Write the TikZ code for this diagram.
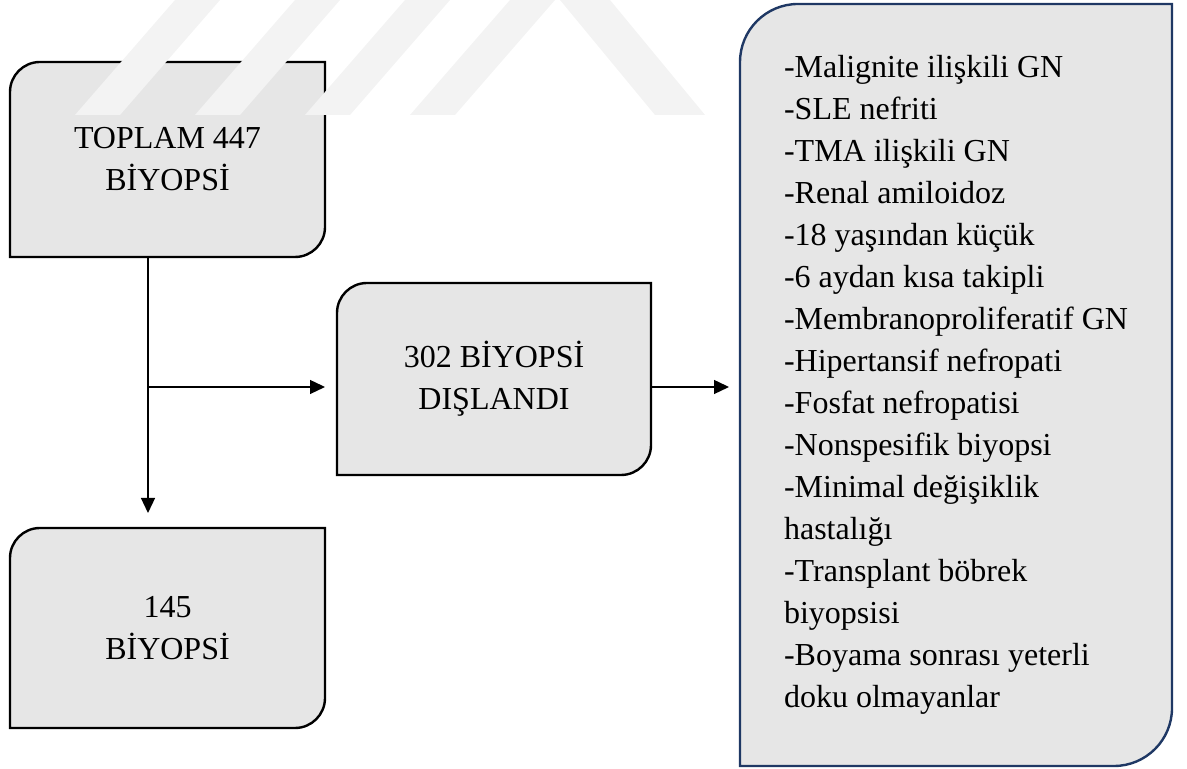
\documentclass[tikz,border=0pt]{standalone}
\usepackage{fontspec}
\setmainfont{Liberation Serif}
\usepackage{tikz}
\usetikzlibrary{positioning,calc,arrows.meta,backgrounds}
\definecolor{boxgray}{HTML}{E6E6E6}
\definecolor{listblue}{HTML}{1F3864}
\definecolor{wmgray}{HTML}{F3F3F3}
\tikzset{stepbox/.style={inner sep=0pt, outer sep=0pt, align=center, font=\fontsize{16}{21}\selectfont}}
\tikzset{listbox/.style={stepbox, align=left, minimum width=216pt}}
\tikzset{boxline/.style={line width=1.2pt, fill=boxgray}}
\tikzset{arr/.style={draw, -{Triangle[length=7.5pt, width=7pt]}, line width=0.65pt}}
% outline with rounded top-left and bottom-right corners: node, colour, radius
\newcommand{\cutbox}[3]{%
  \begin{pgfonlayer}{background}
    \filldraw[boxline, draw=#2] (#1.south west)
      -- ([yshift=-#3]#1.north west) arc[start angle=180, end angle=90, radius=#3]
      -- (#1.north east)
      -- ([yshift=#3]#1.south east) arc[start angle=0, end angle=-90, radius=#3]
      -- cycle;
  \end{pgfonlayer}}

\begin{document}
\begin{tikzpicture}[x=0.5pt, y=0.5pt]
    \useasboundingbox (0,0) rectangle (1187,769);
    % faint watermark stripes
    \foreach \b in {75,195,305,410}
        \fill[wmgray] (\b,654) -- (\b+45,654) -- (\b+145,769) -- (\b+100,769) -- cycle;
    \fill[wmgray] (560,769) -- (610,769) -- (705,654) -- (655,654) -- cycle;

    \node[stepbox, minimum width=157.5pt, minimum height=97.5pt] (total) at (167.5,609.5) {TOPLAM 447\\BİYOPSİ};
    \node[stepbox, minimum width=157pt, minimum height=96pt] (excl) at (494,390) {302 BİYOPSİ\\DIŞLANDI};
    \node[stepbox, minimum width=157.5pt, minimum height=100pt] (kept) at (167.5,141) {145\\BİYOPSİ};
    \node[listbox, minimum height=381pt] (reasons) at (956,384) {%
        -Malignite ilişkili GN\\
        -SLE nefriti\\
        -TMA ilişkili GN\\
        -Renal amiloidoz\\
        -18 yaşından küçük\\
        -6 aydan kısa takipli\\
        -Membranoproliferatif GN\\
        -Hipertansif nefropati\\
        -Fosfat nefropatisi\\
        -Nonspesifik biyopsi\\
        -Minimal değişiklik\\
        hastalığı\\
        -Transplant böbrek\\
        biyopsisi\\
        -Boyama sonrası yeterli\\
        doku olmayanlar};

    \cutbox{total}{black}{15pt}
    \cutbox{excl}{black}{15pt}
    \cutbox{kept}{black}{15pt}
    \cutbox{reasons}{listblue}{29pt}

    \coordinate (split) at (148,382);
    \draw[line width=0.65pt] (total.south -| split) -- (split);
    \draw[arr, shorten >=7.5pt] (split) -- (kept.north -| split);
    \draw[arr, shorten >=6pt] (split) -- (excl.west |- split);
    \draw[arr, shorten >=5.5pt] (excl.east |- split) -- (reasons.west |- split);
\end{tikzpicture}
\end{document}
